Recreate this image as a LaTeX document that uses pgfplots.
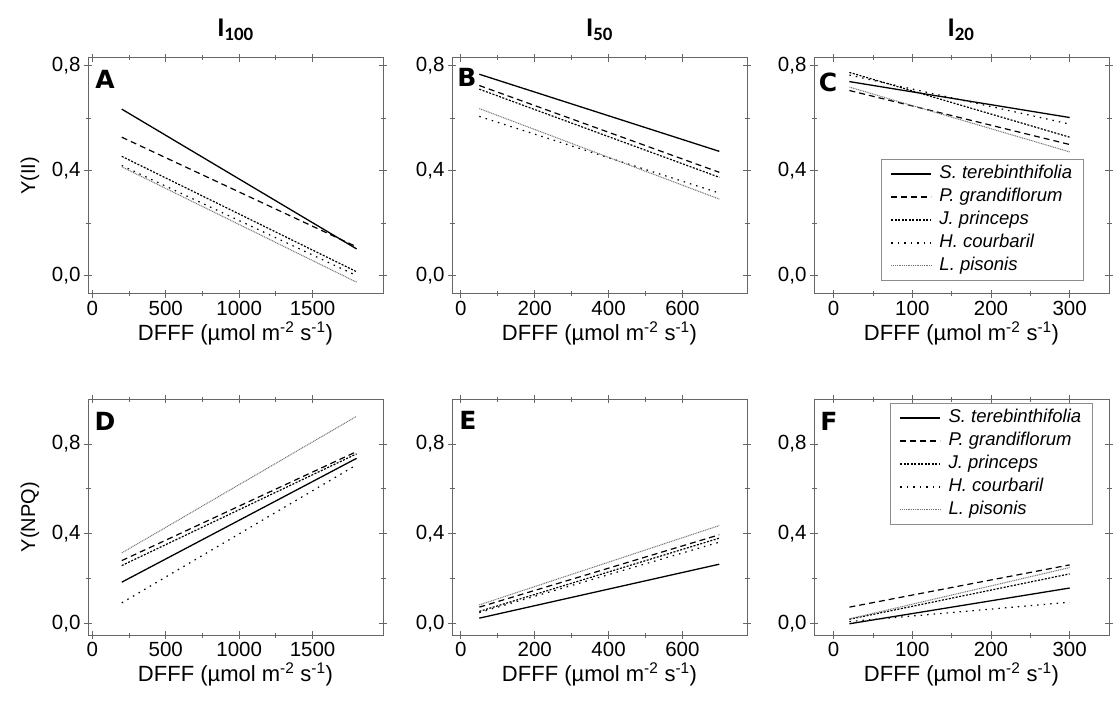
\documentclass[border=0pt]{standalone}
\usepackage{fontspec}
\setmainfont{Liberation Sans}
\newfontfamily\titlefont{Carlito}
\newfontfamily\letterfont{DejaVu Sans}
\usepackage{pgfplots}
\pgfplotsset{compat=1.18}

\newcommand{\gap}{\hspace*{5pt}}
\pgfplotsset{
  panel/.style={
    scale only axis, width=295pt, height=236pt, anchor=south west,
    axis line style={black!60, line width=1pt},
    every tick/.style={black!60, line width=0.9pt},
    tick align=center, major tick length=8pt, minor tick length=5pt,
    minor tick num=1, scaled ticks=false, clip=false,
    ticklabel style={font=\fontsize{20.5}{22}\selectfont},
    /pgf/number format/assume math mode=true,
    ytick={0,0.4,0.8},
    yticklabel style={/pgf/number format/.cd, fixed, fixed zerofill, precision=1, use comma},
    xticklabel style={/pgf/number format/.cd, fixed, precision=0, 1000 sep={}},
    xlabel={DFFF (µmol m\textsuperscript{-2} s\textsuperscript{-1})},
    xlabel style={font=\fontsize{22}{24}\selectfont, yshift=1pt},
    legend cell align=left,
    legend image code/.code={\draw[##1] (0pt,0pt) -- (40pt,0pt);},
    legend style={draw=black!45, line width=0.8pt, fill=white,
      font=\itshape\fontsize{18.5}{20}\selectfont,
      nodes={text height=13.5pt, text depth=4.5pt, inner sep=2.5pt},
      row sep=0pt, inner xsep=9pt, inner ysep=3pt},
  },
  toprow/.style={panel, ymin=-0.07, ymax=0.83},
  botrow/.style={panel, ymin=-0.05, ymax=1.0},
  colA/.style={xmin=-30, xmax=1980, xtick={0,500,1000,1500}},
  colB/.style={xmin=-24, xmax=775, xtick={0,200,400,600}},
  colC/.style={xmin=-25, xmax=350, xtick={0,100,200,300}},
  st/.style={black, line width=1.3pt},
  pg/.style={black, line width=1.2pt, dash pattern=on 6pt off 4pt},
  jp/.style={black, line width=1.2pt, dash pattern=on 2pt off 1.5pt},
  hc/.style={black, line width=1.2pt, dash pattern=on 1.5pt off 5pt},
  lp/.style={black!55, line width=1pt, dash pattern=on 1pt off 0.8pt},
}

\begin{document}
\begin{tikzpicture}
\path[use as bounding box] (0pt,0pt) rectangle (1113pt,702pt);

% ---- top row: Y(II)
\begin{axis}[toprow, colA, at={(88pt,408pt)}]
  \addplot[st] coordinates {(200,0.635) (1800,0.102)};
  \addplot[pg] coordinates {(200,0.528) (1800,0.110)};
  \addplot[jp] coordinates {(200,0.455) (1800,0.015)};
  \addplot[hc] coordinates {(200,0.420) (1800,0.000)};
  \addplot[lp] coordinates {(200,0.415) (1800,-0.025)};
\end{axis}

\begin{axis}[toprow, colB, at={(452pt,408pt)}]
  \addplot[st] coordinates {(50,0.768) (700,0.474)};
  \addplot[pg] coordinates {(50,0.725) (700,0.394)};
  \addplot[jp] coordinates {(50,0.711) (700,0.375)};
  \addplot[hc] coordinates {(50,0.607) (700,0.315)};
  \addplot[lp] coordinates {(50,0.637) (700,0.292)};
\end{axis}

\begin{axis}[toprow, colC, at={(814pt,408pt)},
  legend style={at={(0.228,0.572)}, anchor=north west}]
  \addplot[st] coordinates {(20,0.740) (300,0.603)};
  \addplot[pg] coordinates {(20,0.706) (300,0.500)};
  \addplot[jp] coordinates {(20,0.775) (300,0.528)};
  \addplot[hc] coordinates {(20,0.765) (300,0.578)};
  \addplot[lp] coordinates {(20,0.719) (300,0.472)};
  \legend{\gap S. terebinthifolia, \gap P. grandiflorum, \gap J. princeps, \gap H. courbaril, \gap L. pisonis}
\end{axis}

% ---- bottom row: Y(NPQ)
\begin{axis}[botrow, colA, at={(88pt,67pt)}]
  \addplot[st] coordinates {(200,0.185) (1800,0.736)};
  \addplot[pg] coordinates {(200,0.281) (1800,0.766)};
  \addplot[jp] coordinates {(200,0.259) (1800,0.756)};
  \addplot[hc] coordinates {(200,0.093) (1800,0.707)};
  \addplot[lp] coordinates {(200,0.315) (1800,0.923)};
\end{axis}

\begin{axis}[botrow, colB, at={(452pt,67pt)}]
  \addplot[st] coordinates {(50,0.025) (700,0.265)};
  \addplot[pg] coordinates {(50,0.074) (700,0.396)};
  \addplot[jp] coordinates {(50,0.055) (700,0.381)};
  \addplot[hc] coordinates {(50,0.050) (700,0.363)};
  \addplot[lp] coordinates {(50,0.084) (700,0.437)};
\end{axis}

\begin{axis}[botrow, colC, at={(814pt,67pt)},
  legend style={at={(0.259,0.983)}, anchor=north west}]
  \addplot[st] coordinates {(20,0.000) (300,0.159)};
  \addplot[pg] coordinates {(20,0.074) (300,0.262)};
  \addplot[jp] coordinates {(20,0.020) (300,0.222)};
  \addplot[hc] coordinates {(20,0.010) (300,0.096)};
  \addplot[lp] coordinates {(20,0.022) (300,0.250)};
  \legend{\gap S. terebinthifolia, \gap P. grandiflorum, \gap J. princeps, \gap H. courbaril, \gap L. pisonis}
\end{axis}

% titles, y labels, panel letters
\foreach \xx/\tt in {235.5/100, 599.5/50, 961/20}
  \node[font=\titlefont\bfseries\fontsize{27}{29}\selectfont] at (\xx pt,672pt) {I\textsubscript{\tt}};
\node[rotate=90, font=\fontsize{20}{22}\selectfont] at (30pt,526pt) {Y(II)};
\node[rotate=90, font=\fontsize{20}{22}\selectfont] at (30pt,185pt) {Y(NPQ)};
\foreach \xx/\yy/\ll in {105/623/A, 467/625/B, 828/620/C, 105/281/D, 468/282/E, 829/281/F}
  \node[font=\letterfont\bfseries\fontsize{25}{27}\selectfont] at (\xx pt,\yy pt) {\ll};
\end{tikzpicture}
\end{document}
